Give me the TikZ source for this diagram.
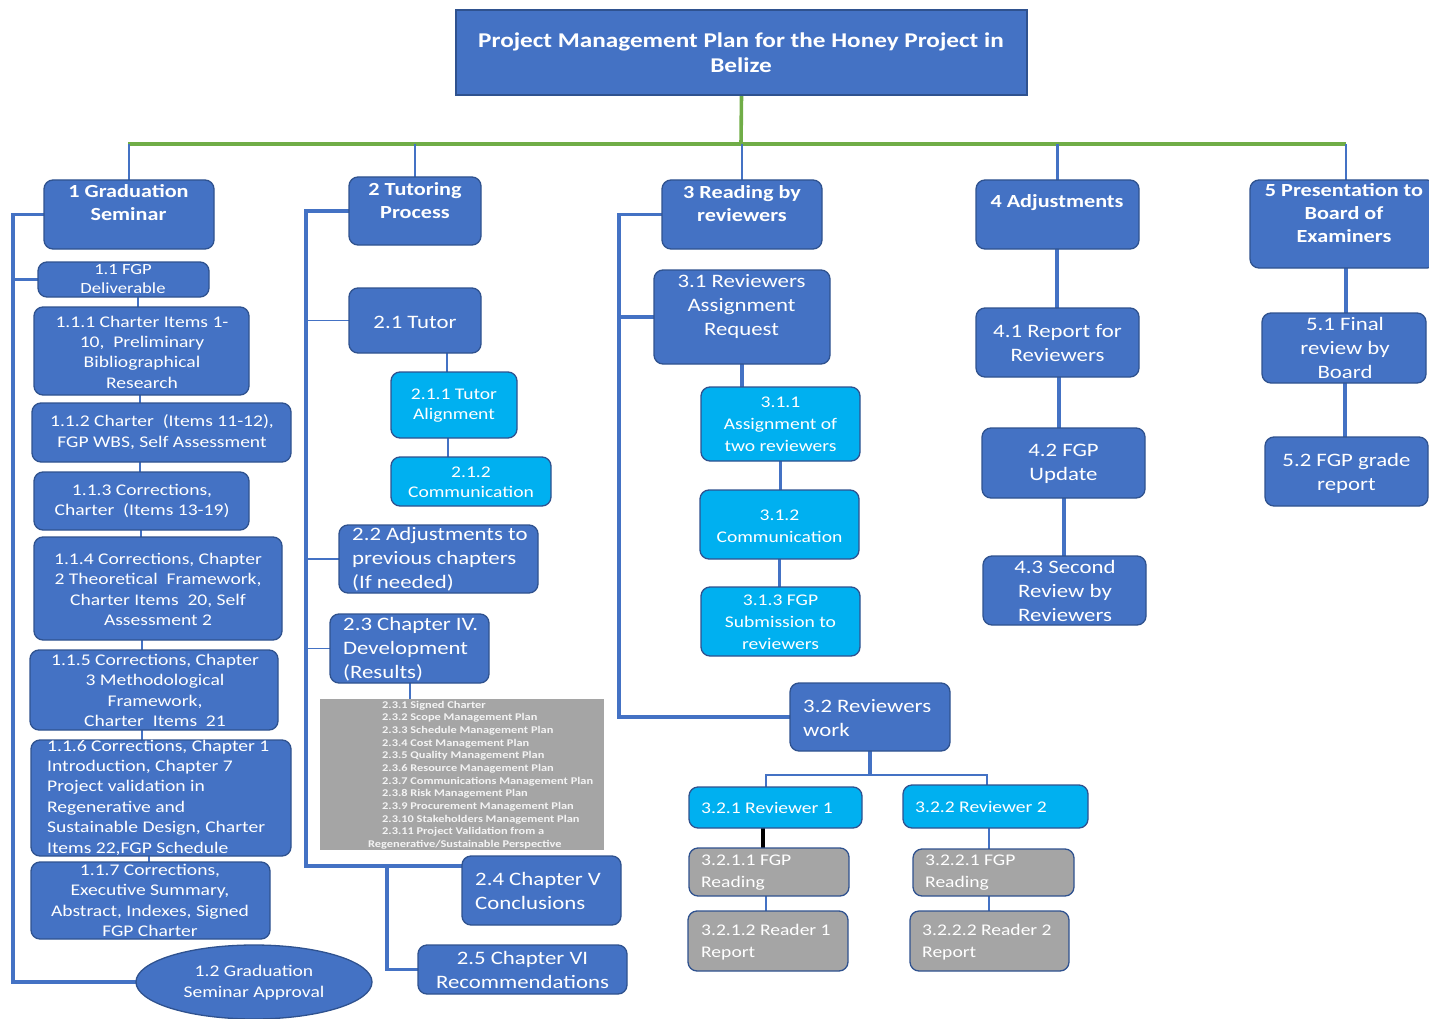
\documentclass[tikz,border=0pt]{standalone}
\usepackage{fontspec}
\setmainfont{Carlito}[FakeStretch=1.2]
\usetikzlibrary{shapes.geometric,backgrounds}

\definecolor{wbsblue}{HTML}{4472C4}
\definecolor{wbsedge}{HTML}{2F528F}
\definecolor{wbscyan}{HTML}{00B0F0}
\definecolor{wbsgray}{HTML}{A5A5A5}
\definecolor{wbsgreen}{HTML}{70AD47}
\definecolor{listtext}{HTML}{F4F4F4}

\tikzset{
  boxbase/.style={draw=wbsedge, line width=1.3pt, inner sep=0pt, outer sep=0pt, rectangle, rounded corners=9pt},
  bluebox/.style={boxbase, fill=wbsblue},
  cyanbox/.style={boxbase, fill=wbscyan},
  graybox/.style={boxbase, fill=wbsgray},
  titlebox/.style={draw=wbsedge, line width=1.3pt, fill=wbsblue, inner sep=0pt, outer sep=0pt},
  listbox/.style={draw=none, fill=wbsgray, inner sep=0pt, outer sep=0pt},
  txt/.style={text=white, inner sep=0pt, align=center},
  ltxt/.style={text=white, inner sep=0pt, align=left, anchor=west},
  ftitle/.style={font=\bfseries\fontsize{21}{25}\selectfont},
  fhead/.style={font=\bfseries\fontsize{18.5}{23}\selectfont},
  fmid/.style={font=\fontsize{19}{24}\selectfont},
  fsmall/.style={font=\fontsize{16.3}{20.4}\selectfont},
  fcyan/.style={font=\fontsize{16.3}{22}\selectfont},
  flist/.style={font=\bfseries\fontsize{10.3}{12.65}\selectfont, text=listtext},
  conn/.style={draw=wbsblue, line width=3.6pt},
  connmid/.style={draw=wbsblue, line width=2.6pt},
  connthin/.style={draw=wbsblue, line width=1.4pt},
  trunk/.style={draw=wbsgreen, line width=3.6pt},
}

% box from its left, top, right and bottom edges (y grows downward)
\newcommand{\wbsbox}[6]{%
  \node[#2, anchor=north west, minimum width={#5-#3}, minimum height={#6-#4}] (#1) at (#3,#4) {};}

\begin{document}
\begin{tikzpicture}[x=1pt,y=-1pt]
\useasboundingbox (0,0) rectangle (1429,1019);

% ---------- boxes ----------
\wbsbox{top}{titlebox}{456}{10}{1027}{95}
\node[txt, ftitle] (top-t) at (741,53) {Project Management Plan for the Honey Project in\\Belize};

\wbsbox{n1}{bluebox}{44}{180}{214}{249}
\node[txt, fhead] (n1-t) at (128.5,203) {1 Graduation\\Seminar};
\wbsbox{n2}{bluebox}{349}{177}{481}{245}
\node[txt, fhead] (n2-t) at (415,201) {2 Tutoring\\Process};
\wbsbox{n3}{bluebox}{662}{180}{822}{249}
\node[txt, fhead] (n3-t) at (742,204) {3 Reading by\\reviewers};
\wbsbox{n4}{bluebox}{976}{180}{1139}{249}
\node[txt, fhead] (n4-t) at (1057,203) {4 Adjustments};
\wbsbox{n5}{bluebox}{1250}{180}{1436}{268}
\node[txt, fhead] (n5-t) at (1344,213) {5 Presentation to\\Board of\\Examiners};

% branch 1
\wbsbox{n11}{bluebox}{38}{262}{209}{297}
\node[txt, font=\fontsize{15.5}{19}\selectfont] (n11-t) at (123,279.5) {1.1 FGP\\Deliverable};
\wbsbox{n111}{bluebox}{34}{307}{249}{395}
\node[txt, fsmall] (n111-t) at (142,352) {1.1.1 Charter Items 1-\\10,\ \ Preliminary\\Bibliographical\\Research};
\wbsbox{n112}{bluebox}{32}{403}{291}{462}
\node[txt, fsmall] (n112-t) at (162,432) {1.1.2 Charter\ \ (Items 11-12),\\FGP WBS, Self Assessment};
\wbsbox{n113}{bluebox}{34}{472}{249}{530}
\node[txt, fsmall] (n113-t) at (142,501) {1.1.3 Corrections,\\Charter\ \ (Items 13-19)};
\wbsbox{n114}{bluebox}{34}{537}{282}{640}
\node[txt, fsmall] (n114-t) at (158,589.5) {1.1.4 Corrections, Chapter\\2 Theoretical\ \ Framework,\\Charter Items\ \ 20, Self\\Assessment 2};
\wbsbox{n115}{bluebox}{30}{650}{278}{730}
\node[txt, fsmall] (n115-t) at (155,690.5) {1.1.5 Corrections, Chapter\\3 Methodological\\Framework,\\Charter\ \ Items\ \ 21};
\wbsbox{n116}{bluebox}{31}{740}{291}{856}
\node[ltxt, fsmall] (n116-t) at (47,797.5) {1.1.6 Corrections, Chapter 1\\Introduction, Chapter 7\\Project validation in\\Regenerative and\\Sustainable Design, Charter\\Items 22,FGP Schedule};
\wbsbox{n117}{bluebox}{31}{862}{270}{939}
\node[txt, fsmall] (n117-t) at (150,900.5) {1.1.7 Corrections,\\Executive Summary,\\Abstract, Indexes, Signed\\FGP Charter};
\node[ellipse, draw=wbsedge, line width=1.3pt, fill=wbsblue, minimum width=236pt, minimum height=74pt, inner sep=0pt, outer sep=0pt] (n12) at (254,982) {};
\node[txt, fsmall] (n12-t) at (254,982.5) {1.2 Graduation\\Seminar Approval};

% branch 2
\wbsbox{n21}{bluebox}{349}{288}{481}{353}
\node[txt, fmid] (n21-t) at (415,322) {2.1 Tutor};
\wbsbox{n211}{cyanbox}{391}{372}{517}{438}
\node[txt, fsmall] (n211-t) at (454,405.5) {2.1.1 Tutor\\Alignment};
\wbsbox{n212}{cyanbox}{391}{457}{551}{506}
\node[txt, fsmall] (n212-t) at (471,482) {2.1.2\\Communication};
\wbsbox{n22}{bluebox}{339}{525}{538}{593}
\node[ltxt, fmid] (n22-t) at (352,559.5) {2.2 Adjustments to\\previous chapters\\(If needed)};
\wbsbox{n23}{bluebox}{330}{614}{489}{683}
\node[ltxt, fmid] (n23-t) at (343,649.5) {2.3 Chapter IV.\\Development\\(Results)};
\wbsbox{n23l}{listbox}{320}{699}{604}{850}
\node[ltxt, flist] (n23l-t) at (382,775) {2.3.1 Signed Charter\\2.3.2 Scope Management Plan\\2.3.3 Schedule Management Plan\\2.3.4 Cost Management Plan\\2.3.5 Quality Management Plan\\2.3.6 Resource Management Plan\\2.3.7 Communications Management Plan\\2.3.8 Risk Management Plan\\2.3.9 Procurement Management Plan\\2.3.10 Stakeholders Management Plan\\2.3.11 Project Validation from a\\\hspace*{-14pt}Regenerative/Sustainable Perspective};
\wbsbox{n24}{bluebox}{462}{856}{621}{925}
\node[ltxt, fmid] (n24-t) at (475,891) {2.4 Chapter V\\Conclusions};
\wbsbox{n25}{bluebox}{418}{945}{627}{994}
\node[txt, fmid] (n25-t) at (522.5,969.5) {2.5 Chapter VI\\Recommendations};

% branch 3
\wbsbox{n31}{bluebox}{654}{270}{830}{364}
\node[txt, fmid] (n31-t) at (741.5,306.5) {3.1 Reviewers\\Assignment\\Request};
\wbsbox{n311}{cyanbox}{701}{387}{860}{461}
\node[txt, fcyan] (n311-t) at (780.5,424) {3.1.1\\Assignment of\\two reviewers};
\wbsbox{n312}{cyanbox}{700}{490}{859}{559}
\node[txt, fcyan] (n312-t) at (779.5,526) {3.1.2\\Communication};
\wbsbox{n313}{cyanbox}{701}{587}{860}{656}
\node[txt, fcyan] (n313-t) at (780.5,622) {3.1.3 FGP\\Submission to\\reviewers};
\wbsbox{n32}{bluebox}{790}{683}{950}{751}
\node[ltxt, fmid] (n32-t) at (803,718) {3.2 Reviewers\\work};
\wbsbox{n321}{cyanbox}{689}{787}{862}{828}
\node[ltxt, fcyan] (n321-t) at (701,808) {3.2.1 Reviewer 1};
\wbsbox{n322}{cyanbox}{903}{785}{1088}{828}
\node[ltxt, fcyan] (n322-t) at (915,807) {3.2.2 Reviewer 2};
\wbsbox{n3211}{graybox}{689}{848}{849}{896}
\node[ltxt, fcyan] (n3211-t) at (701,872.5) {3.2.1.1 FGP\\Reading};
\wbsbox{n3212}{graybox}{688}{911}{848}{971}
\node[ltxt, fcyan] (n3212-t) at (701,942.5) {3.2.1.2 Reader 1\\Report};
\wbsbox{n3221}{graybox}{913}{849}{1074}{896}
\node[ltxt, fcyan] (n3221-t) at (925,872.5) {3.2.2.1 FGP\\Reading};
\wbsbox{n3222}{graybox}{910}{911}{1069}{971}
\node[ltxt, fcyan] (n3222-t) at (922,942.5) {3.2.2.2 Reader 2\\Report};

% branch 4
\wbsbox{n41}{bluebox}{976}{308}{1139}{377}
\node[txt, fmid] (n41-t) at (1057.5,343) {4.1 Report for\\Reviewers};
\wbsbox{n42}{bluebox}{982}{428}{1145}{498}
\node[txt, fmid] (n42-t) at (1063.5,463.5) {4.2 FGP\\Update};
\wbsbox{n43}{bluebox}{983}{556}{1146}{625}
\node[txt, fmid] (n43-t) at (1065,591) {4.3 Second\\Review by\\Reviewers};

% branch 5
\wbsbox{n51}{bluebox}{1262}{313}{1426}{383}
\node[txt, fmid] (n51-t) at (1345,348) {5.1 Final\\review by\\Board};
\wbsbox{n52}{bluebox}{1265}{437}{1428}{506}
\node[txt, fmid] (n52-t) at (1346.5,473) {5.2 FGP grade\\report};

% ---------- connectors ----------
\coordinate (trk) at (741,144);
\coordinate (bus1) at (13,0);
\coordinate (bus2) at (306,866);
\coordinate (bus2b) at (387,866);
\coordinate (bus3) at (619,717);
\coordinate (fork) at (870,775);

\begin{scope}[on background layer]
  % trunk
  \draw[trunk] (top.south) -- (trk);
  \draw[trunk] (128,144) -- (1346,144);
  \draw[connmid] (n1.north |- trk) -- (n1.north);
  \draw[connmid] (n2.north |- trk) -- (n2.north);
  \draw[connmid] (n3.north |- trk) -- (n3.north);
  \draw[connmid] (n4.north |- trk) -- (n4.north);
  \draw[connmid] (1346,144) -- (n5.north -| 1346,0);

  % branch 1
  \draw[conn] (n1.west) -| (bus1 |- n12.west) -- (n12.west);
  \draw[conn] (n11.west) -- (n11.west -| bus1);
  \draw[connmid] (n11.south -| 138,0) -- (n111.north -| 138,0);
  \draw[connmid] (n111.south -| 140,0) -- (n112.north -| 140,0);
  \draw[connmid] (n112.south -| 140,0) -- (n113.north -| 140,0);
  \draw[connmid] (n113.south -| 141,0) -- (n114.north -| 141,0);
  \draw[connmid] (n114.south -| 142,0) -- (n115.north -| 142,0);
  \draw[connmid] (n115.south -| 142,0) -- (n116.north -| 142,0);
  \draw[connmid] (n116.south -| 149,0) -- (n117.north -| 149,0);

  % branch 2
  \draw[conn] (n2.west) -| (bus2) -- (bus2 -| n24.west);
  \draw[conn] (bus2b) |- (n25.west);
  \draw[connthin] (n21.west) -- (n21.west -| bus2);
  \draw[connthin] (n22.west) -- (n22.west -| bus2);
  \draw[connthin] (n23.west) -- (n23.west -| bus2);
  \draw[connthin] (n21.south -| 447,0) -- (n211.north -| 447,0);
  \draw[connthin] (n211.south -| 448,0) -- (n212.north -| 448,0);
  \draw[connthin] (n23.south -| 410,0) -- (n23l.north -| 410,0);

  % branch 3
  \draw[conn] (n3.west) -| (bus3) -- (n32.west);
  \draw[conn] (n31.west) -- (n31.west -| bus3);
  \draw[conn] (n31.south) -- (n311.north -| n31.south);
  \draw[conn] (n311.south) -- (n312.north -| n311.south);
  \draw[conn] (n312.south) -- (n313.north -| n312.south);
  \draw[conn] (n32.south -| fork) -- (fork);
  \draw[connmid] (n321.north -| 766,0) |- (fork) -| (n322.north -| 987,0);
  \draw[draw=black, line width=4pt] (n321.south -| 763,0) -- (n3211.north -| 763,0);
  \draw[connthin] (n3211.south -| 766,0) -- (n3212.north -| 766,0);
  \draw[connmid] (n322.south -| 989,0) -- (n3221.north -| 989,0);
  \draw[connthin] (n3221.south -| 989,0) -- (n3222.north -| 989,0);

  % branch 4
  \draw[conn] (n4.south -| 1057,0) -- (n41.north -| 1057,0);
  \draw[conn] (n41.south -| 1059,0) -- (n42.north -| 1059,0);
  \draw[conn] (n42.south -| 1064,0) -- (n43.north -| 1064,0);

  % branch 5
  \draw[conn] (n5.south -| 1346,0) -- (n51.north -| 1346,0);
  \draw[conn] (n51.south -| 1345,0) -- (n52.north -| 1345,0);
\end{scope}
\end{tikzpicture}
\end{document}
